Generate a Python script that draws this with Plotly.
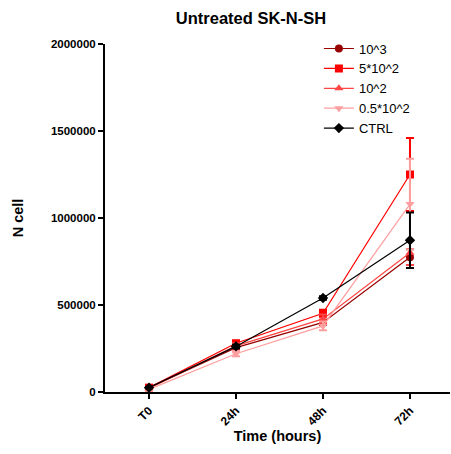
import plotly.graph_objects as go

# Time points and cell counts (mean and SD) for each seeding condition
time_labels = ["T0", "24h", "48h", "72h"]
time_idx = [0, 1, 2, 3]

names = ["10^3", "5*10^2", "10^2", "0.5*10^2", "CTRL"]
means_1e3 = [25000, 255000, 400000, 775000]
sd_1e3 = [5000, 15000, 15000, 45000]
means_5e2 = [25000, 280000, 452000, 1250000]
sd_5e2 = [5000, 15000, 20000, 210000]
means_1e2 = [20000, 265000, 420000, 800000]
sd_1e2 = [5000, 15000, 25000, 70000]
means_05e2 = [15000, 220000, 380000, 1080000]
sd_05e2 = [8000, 15000, 25000, 260000]
means_ctrl = [25000, 262000, 540000, 872000]
sd_ctrl = [4000, 10000, 10000, 160000]

colors = ["#990000", "#FF0000", "#FF4545", "#FF9E9E", "#000000"]
symbols = ["circle", "square", "triangle-up", "triangle-down", "diamond"]
series = [(means_1e3, sd_1e3), (means_5e2, sd_5e2), (means_1e2, sd_1e2),
          (means_05e2, sd_05e2), (means_ctrl, sd_ctrl)]

font_family = "Liberation Sans, Arial, sans-serif"

fig = go.Figure()
for name, (m, s), c, sym in zip(names, series, colors, symbols):
    fig.add_trace(go.Scatter(
        x=time_idx, y=m, name=name, mode="lines+markers",
        line=dict(color=c, width=1.2),
        marker=dict(color=c, symbol=sym, size=8),
        error_y=dict(type="data", array=s, visible=True, color=c,
                     thickness=2, width=4),
    ))

fig.update_layout(
    width=451, height=454,
    margin=dict(l=105, r=1, t=44, b=62),
    paper_bgcolor="white", plot_bgcolor="white",
    font=dict(family=font_family, color="black", size=12),
    title=dict(text="<b>Untreated SK-N-SH</b>", x=251 / 451, xanchor="center",
               y=1 - 18 / 454, yanchor="middle",
               font=dict(size=16.5, family=font_family)),
    showlegend=True,
    legend=dict(x=0.62, y=1.03, xanchor="left", yanchor="top",
                bgcolor="rgba(0,0,0,0)", font=dict(size=13, family=font_family),
                tracegroupgap=0),
)

fig.update_xaxes(
    range=[-0.506, 3.46], tickmode="array", tickvals=time_idx,
    ticktext=["<b>%s</b>" % t for t in time_labels], tickangle=-45,
    showline=True, linecolor="black", linewidth=2,
    ticks="outside", ticklen=5, tickwidth=1.5, tickcolor="black",
    showgrid=False, zeroline=False,
    tickfont=dict(size=12),
    title=dict(text="<b>Time (hours)</b>", font=dict(size=14.5), standoff=2),
)
fig.update_yaxes(
    range=[0, 2000000], tickvals=[0, 500000, 1000000, 1500000, 2000000],
    ticktext=["<b>0</b>", "<b>500000</b>", "<b>1000000</b>", "<b>1500000</b>", "<b>2000000</b>"],
    showline=True, linecolor="black", linewidth=2,
    ticks="outside", ticklen=5, tickwidth=1.5, tickcolor="black",
    showgrid=False, zeroline=False,
    tickfont=dict(size=11.5),
    title=dict(text="<b>N cell</b>", font=dict(size=14.5), standoff=24),
)

fig.write_html("out.html")
